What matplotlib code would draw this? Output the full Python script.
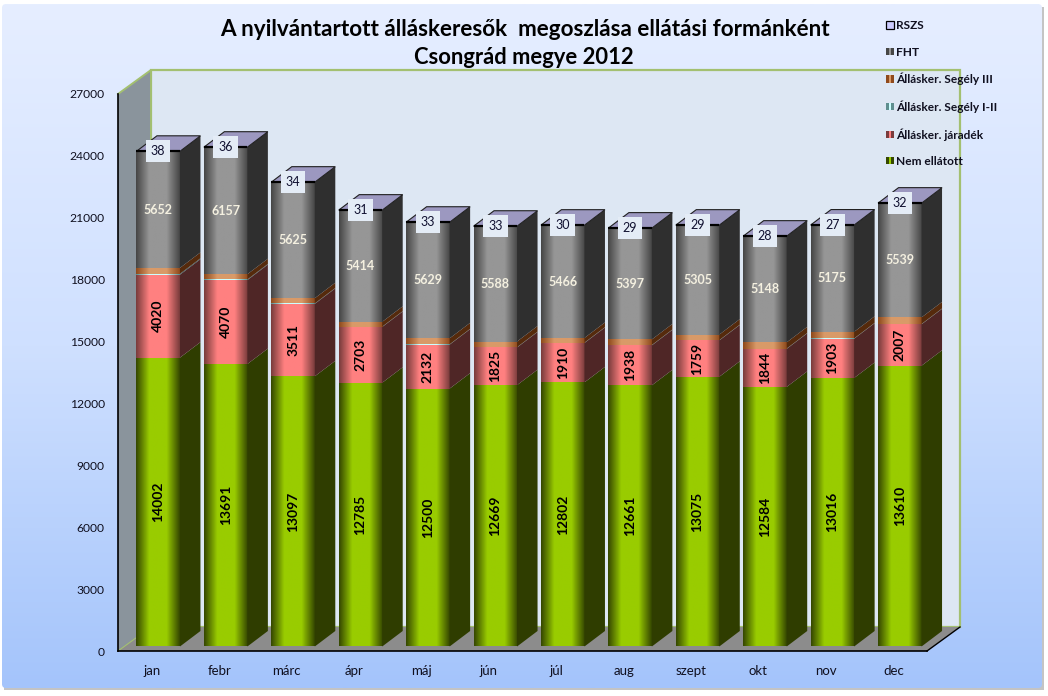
import numpy as np
import matplotlib
matplotlib.use('Agg')
import matplotlib.pyplot as plt
from matplotlib.colors import LinearSegmentedColormap
from matplotlib.patches import Polygon, Rectangle, FancyBboxPatch
from matplotlib.legend_handler import HandlerBase

plt.rcParams['font.family'] = ['Lato', 'DejaVu Sans']

months = ['jan', 'febr', 'márc', 'ápr', 'máj', 'jún', 'júl', 'aug', 'szept', 'okt', 'nov', 'dec']
nem_ellatott = [14002, 13691, 13097, 12785, 12500, 12669, 12802, 12661, 13075, 12584, 13016, 13610]
jaradek = [4020, 4070, 3511, 2703, 2132, 1825, 1910, 1938, 1759, 1844, 1903, 2007]
segely_12 = [45, 30, 20, 15, 15, 15, 15, 15, 15, 15, 15, 15]
segely_3 = [285, 255, 255, 235, 290, 275, 230, 270, 270, 300, 320, 320]
fht = [5652, 6157, 5625, 5414, 5629, 5588, 5466, 5397, 5305, 5148, 5175, 5539]
rszs = [38, 36, 34, 31, 33, 33, 30, 29, 29, 28, 27, 32]
yticks = list(range(0, 27001, 3000))

series = [nem_ellatott, jaradek, segely_12, segely_3, fht, rszs]
names = ['Nem ellátott', 'Állásker. járadék', 'Állásker. Segély I-II',
         'Állásker. Segély III', 'FHT', 'RSZS']
# edge colour, centre colour, side face colour
colors = [('#364800', '#99cc00', '#2f3d00'),
          ('#7a3c3c', '#ff8080', '#4f2626'),
          ('#5f8f8f', '#ccffff', '#3a5050'),
          ('#8f4a1c', '#d99a68', '#552a0c'),
          ('#464646', '#969696', '#2f2f2f'),
          ('#8c8cc0', '#ccccff', '#9c98c0')]

W, H = 1048, 696
L, R, T, B = 118, 927, 94, 651
px_x = 12 / (R - L)
px_y = 27000 / (B - T)

fig = plt.figure(figsize=(W / 100, H / 100), dpi=100, facecolor='white')

# panel behind everything
bg = fig.add_axes([0, 0, 1, 1], zorder=0)
bg.set_xlim(0, W)
bg.set_ylim(H, 0)
bg.axis('off')
bg.add_patch(Rectangle((4, 7), 1040, 683, fc='#c4c4c4', ec='none'))
grad = np.linspace(0, 1, 256)[:, None]
cm_bg = LinearSegmentedColormap.from_list('bg', ['#e6eeff', '#cfe0ff', '#a4c4fb'])
im = bg.imshow(grad, cmap=cm_bg, extent=(2, 1042, 688, 4), aspect='auto', zorder=2)
clip = FancyBboxPatch((4, 6), 1036, 680, boxstyle='round,pad=2,rounding_size=4',
                      transform=bg.transData, fc='none', ec='none')
bg.add_patch(clip)
im.set_clip_path(clip)
bg.set_xlim(0, W)
bg.set_ylim(H, 0)

ax = fig.add_axes([L / W, (H - B) / H, (R - L) / W, (B - T) / H], zorder=1)
ax.patch.set_visible(False)

# walls and floor
DX, DY = 33 * px_x, 24 * px_y
x0, x1 = -0.5, 11.5
ax.add_patch(Rectangle((x0 + DX, DY), x1 - x0, 27000, fc='#dde7f3', ec='#a3c070', lw=1.6,
                       clip_on=False, zorder=1))
ax.add_patch(Polygon([(x0, 0), (x0 + DX, DY), (x0 + DX, 27000 + DY), (x0, 27000)],
                     fc='#8a949c', ec='none', clip_on=False, zorder=2))
ax.plot([x0, x0 + DX, x0 + DX], [27000, 27000 + DY, DY], color='#a3c070', lw=1.4,
        clip_on=False, zorder=2)
ax.add_patch(Polygon([(x0, 0), (x1, 0), (x1 + DX, DY), (x0 + DX, DY)],
                     fc='#8c8c8c', ec='none', clip_on=False, zorder=2))
ax.plot([x0, x0 + DX * 0.55], [0, DY * 0.55], color='#a3c070', lw=0.8, zorder=3, clip_on=False)
ax.plot([x1, x1 + DX], [0, DY], color='black', lw=1, zorder=3, clip_on=False)

# bars: front sits a little behind the axis line
shift_x, shift_y = 6.5 * px_x, 4.5 * px_y
bw = 43.5 * px_x
sx, sy = 20.5 * px_x, 15.5 * px_y

for i in range(12):
    left = i - bw / 2 + shift_x
    right = left + bw
    base = shift_y
    for k, vals in enumerate(series[:5]):
        edge, mid, side = colors[k]
        v = vals[i]
        cm = LinearSegmentedColormap.from_list('c%d' % k, [(0, edge), (0.3, mid), (0.7, mid), (1, edge)])
        ax.imshow(np.linspace(0, 1, 64)[None, :], cmap=cm, aspect='auto',
                  extent=(left, right, base, base + v), zorder=5, interpolation='bilinear',
                  clip_on=False)
        ax.add_patch(Polygon([(right, base), (right + sx, base + sy),
                              (right + sx, base + v + sy), (right, base + v)],
                             fc=side, ec='none', clip_on=False, zorder=5))
        cy = base + v / 2
        if k < 2:
            ax.text(i + shift_x, cy, str(v), rotation=90, ha='center', va='center',
                    fontsize=10, fontweight='bold', color='black', zorder=8)
        elif k == 4:
            ax.text(i + shift_x, cy, str(v), ha='center', va='center',
                    fontsize=9, fontweight='bold', color='#f4f0e0', zorder=8)
        base += v
    # top face, RSZS is only a thin slab on it
    ax.add_patch(Polygon([(left, base), (right, base), (right + sx, base + sy), (left + sx, base + sy)],
                         fc=colors[5][2], ec='#202020', lw=0.8, clip_on=False, zorder=6))
    ax.plot([left, right], [base, base], color='black', lw=1.6, zorder=7, clip_on=False,
            solid_capstyle='butt')
    ax.text(i + shift_x, base, str(rszs[i]), ha='center', va='center', fontsize=9,
            color='#101030', zorder=9,
            bbox=dict(fc='#e4ecf6', ec='none', pad=3.6))

ax.set_xlim(x0, x1)
ax.set_ylim(0, 27000)
ax.set_xticks(range(12))
ax.set_xticklabels(months, fontsize=9.5, color='#101020')
ax.set_yticks(yticks)
ax.set_yticklabels([str(t) for t in yticks], fontsize=8.7, color='#101020')
ax.tick_params(axis='both', length=0)
ax.tick_params(axis='x', pad=10)
ax.tick_params(axis='y', pad=9.5)
for s in ['top', 'right']:
    ax.spines[s].set_visible(False)
for s in ['left', 'bottom']:
    ax.spines[s].set_color('black')
    ax.spines[s].set_linewidth(1.2)
    ax.spines[s].set_zorder(4)

fig.text(525 / W, 1 - 29 / H, 'A nyilvántartott álláskeresők  megoszlása ellátási formánként',
         ha='center', va='center', fontsize=16.2, fontweight='bold', color='black')
fig.text(524 / W, 1 - 58 / H, 'Csongrád megye 2012',
         ha='center', va='center', fontsize=15.8, fontweight='bold', color='black')


class StripeHandler(HandlerBase):
    def create_artists(self, legend, orig, xd, yd, width, height, fontsize, trans):
        edge, mid = orig.get_edgecolor(), orig.get_facecolor()
        out = []
        if orig.get_label() == 'RSZS':
            return [Rectangle((-xd, -yd), width, height, fc=mid, ec='black', lw=0.9, transform=trans)]
        for j, c in enumerate([edge, mid, edge]):
            out.append(Rectangle((-xd + j * width / 3, -yd), width / 3, height, fc=c, ec='none', transform=trans))
        return out


handles = [Rectangle((0, 0), 1, 1, fc=colors[k][1], ec=colors[k][0], label=names[k]) for k in range(6)]
handles = handles[::-1]
leg = fig.legend(handles=handles, loc='upper left', bbox_to_anchor=(884 / W, 1 - 18 / H),
                 frameon=False, borderpad=0.2, borderaxespad=0, labelspacing=1.27,
                 handlelength=0.6, handleheight=0.6, handletextpad=0.2,
                 handler_map={Rectangle: StripeHandler()},
                 prop={'size': 8.6, 'weight': 'bold'})
for t in leg.get_texts():
    t.set_color('#101020')

fig.savefig('out.png', dpi=100)
